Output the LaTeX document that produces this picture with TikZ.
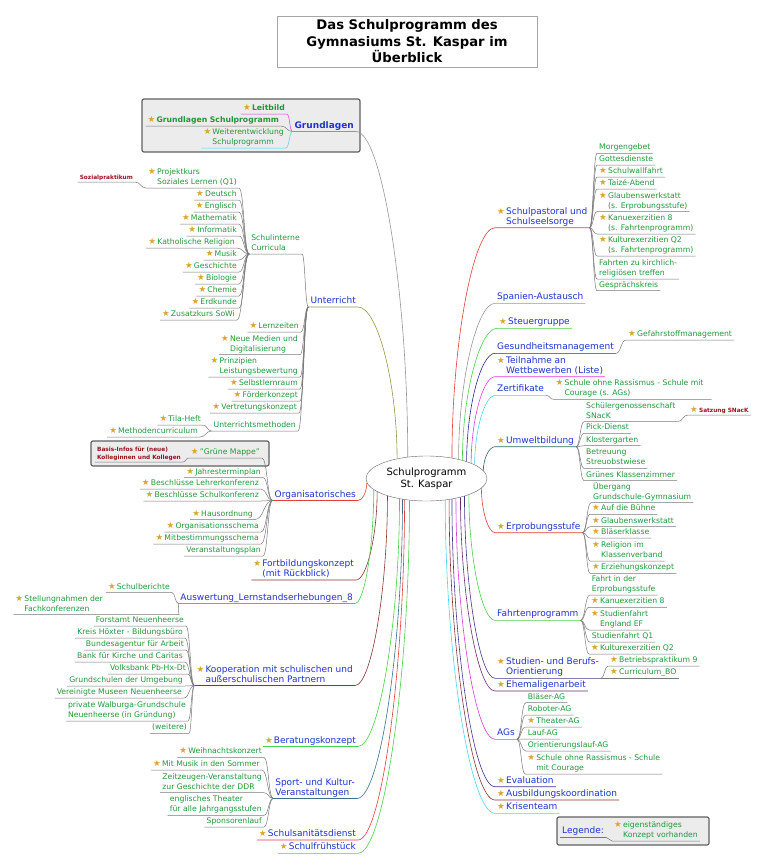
\documentclass[tikz,border=0pt]{standalone}
\usepackage{fontspec}
\setmainfont{DejaVu Sans}
\usepackage{tikz}
\usetikzlibrary{shapes.geometric, calc}

\definecolor{leafgreen}{RGB}{34,150,60}
\definecolor{mainblue}{RGB}{30,50,210}
\definecolor{notered}{RGB}{150,20,30}
\definecolor{twiggray}{RGB}{120,120,120}
\definecolor{stargold}{RGB}{215,165,50}
\definecolor{cgray}{RGB}{150,150,150}
\definecolor{colive}{RGB}{150,150,70}
\definecolor{cred}{RGB}{230,60,60}
\definecolor{cmaroon}{RGB}{140,50,50}
\definecolor{cgreen}{RGB}{70,210,70}
\definecolor{cteal}{RGB}{60,110,140}
\definecolor{cnavy}{RGB}{40,40,150}
\definecolor{cmag}{RGB}{220,60,220}
\definecolor{ccyan}{RGB}{70,215,235}
\definecolor{cdteal}{RGB}{50,100,90}
\definecolor{cindigo}{RGB}{70,50,140}
\definecolor{cplum}{RGB}{110,40,110}

\tikzstyle{titlebox} = [rectangle, draw=gray!70, minimum width=260pt, minimum height=51pt, align=center, font=\fontsize{13.2}{16.5}\selectfont\bfseries]
\tikzstyle{centre} = [ellipse, draw=gray!80!black, minimum width=121pt, minimum height=45pt, inner sep=0pt, align=center, font=\fontsize{10}{11.5}\selectfont]
\tikzstyle{grpbox} = [fill=gray!15, draw=gray!75!black, line width=1.2pt, rounded corners=2pt]
\tikzstyle{main} = [inner xsep=2pt, inner ysep=0.3pt, text=mainblue, font=\fontsize{9}{10}\selectfont]
\tikzstyle{leaf} = [inner xsep=2pt, inner ysep=0.3pt, text=leafgreen, font=\fontsize{7.7}{10}\selectfont]
\tikzstyle{note} = [inner xsep=2pt, inner ysep=0.3pt, text=notered, font=\fontsize{5.8}{8}\selectfont\bfseries]
\tikzstyle{lt} = [anchor=south east]
\tikzstyle{rt} = [anchor=south west]
\tikzstyle{twig} = [draw=twiggray, line width=0.5pt]
\tikzstyle{branch} = [line width=0.6pt]

\newcommand{\st}[1]{{\fontsize{8.6}{8.6}\selectfont\color{stargold}★}\hspace{1.2pt}\begin{tabular}[t]{@{}l@{}}#1\end{tabular}}
\newcommand{\ns}[1]{\begin{tabular}[t]{@{}l@{}}#1\end{tabular}}
% centre -> left / right branch
\newcommand{\ml}[3]{\draw[branch,draw=#1] let \p1=(ctr.#2), \p2=(#3.south east) in
  (\p1) .. controls (\x1,{(\y1+\y2)/2}) and ({(\x1+\x2)/2},\y2) .. (\p2) -- (#3.south west);}
\newcommand{\mr}[3]{\draw[branch,draw=#1] let \p1=(ctr.#2), \p2=(#3.south west) in
  (\p1) .. controls (\x1,{(\y1+\y2)/2}) and ({(\x1+\x2)/2},\y2) .. (\p2) -- (#3.south east);}
% parent -> child
\newcommand{\lk}[3][twig]{\draw[#1] let \p1=(#2.south west), \p2=(#3.south east) in
  (\p1) .. controls ({(\x1+\x2)/2},\y1) and ({(\x1+\x2)/2},\y2) .. (\p2) -- (#3.south west);}
\newcommand{\rk}[3][twig]{\draw[#1] let \p1=(#2.south east), \p2=(#3.south west) in
  (\p1) .. controls ({(\x1+\x2)/2},\y1) and ({(\x1+\x2)/2},\y2) .. (\p2) -- (#3.south east);}

\begin{document}
\begin{tikzpicture}[x=1pt, y=-1pt]
\useasboundingbox (0,0) rectangle (764,865);

\node (ttl) [titlebox] at (407,41.5) {Das Schulprogramm des\\Gymnasiums St. Kaspar im\\Überblick};

\draw[grpbox] (142,99) rectangle (360,152);
\draw[grpbox] (91,441) rectangle (269,466);
\draw[grpbox] (557,817) rectangle (709,845);

\node (ctr) [centre] at (426.5,478.5) {Schulprogramm\\St. Kaspar};

% left side
\node (gl) [main, lt] at (356,131.5) {\ns{\textbf{Grundlagen}}};
\node (leit) [leaf, lt] at (287,114) {\st{\textbf{Leitbild}}};
\node (gsp) [leaf, lt] at (281,126) {\st{\textbf{Grundlagen Schulprogramm}}};
\node (wsp) [leaf, lt] at (286,148) {\st{Weiterentwicklung\\Schulprogramm}};

\node (unt) [main, lt] at (358,307) {\ns{Unterricht}};
\node (cur) [leaf, lt] at (302,254) {\ns{Schulinterne\\Curricula}};
\node (pk) [leaf, lt] at (239,188) {\st{Projektkurs\\Soziales Lernen (Q1)}};
\node (sozp) [note, lt] at (135,182) {\ns{Sozialpraktikum}};
\node (deu) [leaf, lt] at (239,200) {\st{Deutsch}};
\node (eng) [leaf, lt] at (239,212) {\st{Englisch}};
\node (mat) [leaf, lt] at (239,224) {\st{Mathematik}};
\node (inf) [leaf, lt] at (239,236) {\st{Informatik}};
\node (kr) [leaf, lt] at (237,248) {\st{Katholische Religion}};
\node (mus) [leaf, lt] at (239,260) {\st{Musik}};
\node (ges) [leaf, lt] at (239,272) {\st{Geschichte}};
\node (bio) [leaf, lt] at (239,284) {\st{Biologie}};
\node (che) [leaf, lt] at (239,296) {\st{Chemie}};
\node (erd) [leaf, lt] at (239,308) {\st{Erdkunde}};
\node (sowi) [leaf, lt] at (237,320) {\st{Zusatzkurs SoWi}};
\node (lz) [leaf, lt] at (301,332) {\st{Lernzeiten}};
\node (nm) [leaf, lt] at (300,354.7) {\st{Neue Medien und\\Digitalisierung}};
\node (plb) [leaf, lt] at (300,377) {\st{Prinzipien\\Leistungsbewertung}};
\node (slr) [leaf, lt] at (300,389) {\st{Selbstlernraum}};
\node (fk) [leaf, lt] at (300,401) {\st{Förderkonzept}};
\node (vk) [leaf, lt] at (299,413) {\st{Vertretungskonzept}};
\node (um) [leaf, lt] at (298,431) {\ns{Unterrichtsmethoden}};
\node (tila) [leaf, lt] at (203,425) {\st{Tila-Heft}};
\node (mcur) [leaf, lt] at (200,437) {\st{Methodencurriculum}};

\node (org) [main, lt] at (358,500.5) {\ns{Organisatorisches}};
\node (gm) [leaf, lt] at (262,458) {\st{"Grüne Mappe"}};
\node (basis) [note, lt] at (183,462) {\ns{Basis-Infos für (neue)\\Kolleginnen und Kollegen}};
\node (jtp) [leaf, lt] at (263,477.5) {\st{Jahresterminplan}};
\node (blk) [leaf, lt] at (261,489) {\st{Beschlüsse Lehrerkonferenz}};
\node (bsk) [leaf, lt] at (261,501) {\st{Beschlüsse Schulkonferenz}};
\node (ho) [leaf, lt] at (255,519.5) {\st{Hausordnung}};
\node (os) [leaf, lt] at (261,532) {\st{Organisationsschema}};
\node (mbs) [leaf, lt] at (261,544) {\st{Mitbestimmungsschema}};
\node (vp) [leaf, lt] at (263,556) {\ns{Veranstaltungsplan}};

\node (fbk) [main, lt] at (356,580) {\st{Fortbildungskonzept\\(mit Rückblick)}};
\node (alse) [main, lt] at (355,603.5) {\ns{Auswertung\_Lernstandserhebungen\_8}};
\node (sb) [leaf, lt] at (172,592.5) {\st{Schulberichte}};
\node (snf) [leaf, lt] at (179,614.5) {\st{Stellungnahmen der\\Fachkonferenzen}\hspace*{74pt}};

\node (koop) [main, lt] at (355,685.5) {\st{Kooperation mit schulischen und\\außerschulischen Partnern}};
\node (fa) [leaf, lt] at (186,626) {\ns{Forstamt Neuenheerse}};
\node (kh) [leaf, lt] at (185,638) {\ns{Kreis Höxter - Bildungsbüro}};
\node (baa) [leaf, lt] at (186,650) {\ns{Bundesagentur für Arbeit}};
\node (bkc) [leaf, lt] at (185,662) {\ns{Bank für Kirche und Caritas}};
\node (vb) [leaf, lt] at (188,674) {\ns{Volksbank Pb-Hx-Dt}};
\node (gsu) [leaf, lt] at (185,686) {\ns{Grundschulen der Umgebung}};
\node (vmn) [leaf, lt] at (184,698) {\ns{Vereinigte Museen Neuenheerse}};
\node (pwg) [leaf, lt] at (188,721) {\ns{private Walburga-Grundschule\\Neuenheerse (in Gründung)}};
\node (wei) [leaf, lt] at (189,733.3) {\ns{(weitere)}};

\node (bera) [main, lt] at (358,746.5) {\st{Beratungskonzept}};
\node (spk) [main, lt] at (357,798.5) {\ns{Sport- und Kultur-\\Veranstaltungen}};
\node (wk) [leaf, lt] at (264,757.3) {\st{Weihnachtskonzert}};
\node (mim) [leaf, lt] at (262,770) {\st{Mit Musik in den Sommer}};
\node (zz) [leaf, lt] at (264,792.7) {\ns{Zeitzeugen-Veranstaltung\\zur Geschichte der DDR}};
\node (eth) [leaf, lt] at (264,815.3) {\ns{englisches Theater\\für alle Jahrgangsstufen}};
\node (spl) [leaf, lt] at (264,827) {\ns{Sponsorenlauf}};
\node (ssd) [main, lt] at (358,840) {\st{Schulsanitätsdienst}};
\node (sfr) [main, lt] at (358,853.3) {\st{Schulfrühstück}};

% right side
\node (sps) [main, rt] at (495,227.7) {\st{Schulpastoral und\\Schulseelsorge}};
\node (mg) [leaf, rt] at (597,153.3) {\ns{Morgengebet}};
\node (gd) [leaf, rt] at (597,165) {\ns{Gottesdienste}};
\node (swf) [leaf, rt] at (597,177) {\st{Schulwallfahrt}};
\node (tzab) [leaf, rt] at (597,189) {\st{Taizé-Abend}};
\node (gw1) [leaf, rt] at (597,211.7) {\st{Glaubenswerkstatt\\(s. Erprobungsstufe)}};
\node (ke1) [leaf, rt] at (597,234) {\st{Kanuexerzitien 8\\(s. Fahrtenprogramm)}};
\node (kq1) [leaf, rt] at (597,256) {\st{Kulturexerzitien Q2\\(s. Fahrtenprogramm)}};
\node (fkr) [leaf, rt] at (597,279) {\ns{Fahrten zu kirchlich-\\religiösen treffen}};
\node (gsk) [leaf, rt] at (597,290.7) {\ns{Gesprächskreis}};
\node (spa) [main, rt] at (495,303.3) {\ns{Spanien-Austausch}};
\node (stg) [main, rt] at (497,328.3) {\st{Steuergruppe}};
\node (gsm) [main, rt] at (495,353.3) {\ns{Gesundheitsmanagement}};
\node (gfm) [leaf, rt] at (626,340) {\st{Gefahrstoffmanagement}};
\node (tnw) [main, rt] at (495,376.7) {\st{Teilnahme an\\Wettbewerben (Liste)}};
\node (zer) [main, rt] at (495,395.3) {\ns{Zertifikate}};
\node (sor1) [leaf, rt] at (553.5,399.3) {\st{Schule ohne Rassismus - Schule mit\\Courage (s. AGs)}\hspace*{6pt}};
\node (uwb) [main, rt] at (495,446.7) {\st{Umweltbildung}};
\node (sgs) [leaf, rt] at (584,421.7) {\ns{Schülergenossenschaft\\SNacK}};
\node (snk) [note, rt] at (688,415) {\st{Satzung SNacK}};
\node (pkd) [leaf, rt] at (584,433.3) {\ns{Pick-Dienst}};
\node (klg) [leaf, rt] at (584,445.7) {\ns{Klostergarten}};
\node (bsw) [leaf, rt] at (584,468.3) {\ns{Betreuung\\Streuobstwiese}};
\node (gkz) [leaf, rt] at (584,480.7) {\ns{Grünes Klassenzimmer}};
\node (eps) [main, rt] at (495,532.7) {\st{Erprobungsstufe}};
\node (ueb) [leaf, rt] at (591,502.7) {\ns{Übergang\\Grundschule-Gymnasium}};
\node (adb) [leaf, rt] at (590,514.3) {\st{Auf die Bühne}};
\node (gw2) [leaf, rt] at (590,526.7) {\st{Glaubenswerkstatt}};
\node (blk2) [leaf, rt] at (590,538) {\st{Bläserklasse}};
\node (rik) [leaf, rt] at (590,561) {\st{Religion im\\Klassenverband}};
\node (ezk) [leaf, rt] at (590,573.3) {\st{Erziehungskonzept}};
\node (ftp) [main, rt] at (495,620.3) {\ns{Fahrtenprogramm}};
\node (fie) [leaf, rt] at (589.7,595) {\ns{Fahrt in der\\Erprobungsstufe}};
\node (ke2) [leaf, rt] at (589,607.3) {\st{Kanuexerzitien 8}};
\node (sfe) [leaf, rt] at (589,630) {\st{Studienfahrt\\England EF}};
\node (sfq) [leaf, rt] at (589.7,642) {\ns{Studienfahrt Q1}};
\node (kq2) [leaf, rt] at (589,654) {\st{Kulturexerzitien Q2}};
\node (sbo) [main, rt] at (495,678.3) {\st{Studien- und Berufs-\\Orientierung}};
\node (bpk) [leaf, rt] at (608,666) {\st{Betriebspraktikum 9}};
\node (cbo) [leaf, rt] at (608,678.3) {\st{Curriculum\_BO}};
\node (ehe) [main, rt] at (495,691) {\st{Ehemaligenarbeit}};
\node (ags) [main, rt] at (495,739.3) {\ns{AGs}};
\node (bag) [leaf, rt] at (525.7,702.7) {\ns{Bläser-AG}};
\node (rag) [leaf, rt] at (525.7,715) {\ns{Roboter-AG}};
\node (tag) [leaf, rt] at (525.2,727) {\st{Theater-AG}};
\node (lag) [leaf, rt] at (525.7,739) {\ns{Lauf-AG}};
\node (olag) [leaf, rt] at (525.7,751) {\ns{Orientierungslauf-AG}};
\node (sor2) [leaf, rt] at (525.2,774) {\st{Schule ohne Rassismus - Schule\\mit Courage}};
\node (eva) [main, rt] at (495,786.7) {\st{Evaluation}};
\node (abk) [main, rt] at (495,800) {\st{Ausbildungskoordination}};
\node (krt) [main, rt] at (495,813.3) {\st{Krisenteam}};
\node (leg) [main, rt] at (560,837.3) {\ns{Legende:}};
\node (legs) [leaf, rt] at (612,841) {\st{eigenständiges\\Konzept vorhanden}};

% left edges
\ml{cgray}{131}{gl}
\lk[twig,draw=cmag]{gl}{leit}
\lk{gl}{gsp}
\lk[twig,draw=ccyan]{gl}{wsp}
\ml{colive}{146}{unt}
\foreach \nd in {cur,lz,nm,plb,slr,fk,vk,um} {\lk{unt}{\nd}}
\foreach \nd in {pk,deu,eng,mat,inf,kr,mus,ges,bio,che,erd,sowi} {\lk{cur}{\nd}}
\lk{pk}{sozp}
\lk{um}{tila}
\lk{um}{mcur}
\ml{cred}{184}{org}
\foreach \nd in {gm,jtp,blk,bsk,ho,os,mbs,vp} {\lk{org}{\nd}}
\lk{gm}{basis}
\ml{cmaroon}{195.5}{fbk}
\ml{cgreen}{192}{alse}
\lk{alse}{sb}
\lk{alse}{snf}
\ml{cmaroon}{204.3}{koop}
\foreach \nd in {fa,kh,baa,bkc,vb,gsu,vmn,pwg,wei} {\lk{koop}{\nd}}
\ml{cgreen}{217.3}{bera}
\ml{cteal}{221.4}{spk}
\foreach \nd in {wk,mim,zz,eth,spl} {\lk{spk}{\nd}}
\ml{cred}{224}{ssd}
\ml{cgreen}{232.6}{sfr}

% right edges
\mr{cred}{39}{sps}
\foreach \nd in {mg,gd,swf,tzab,gw1,ke1,kq1,fkr,gsk} {\rk{sps}{\nd}}
\mr{cgray}{31.4}{spa}
\mr{cgreen}{27.2}{stg}
\mr{cnavy}{23.3}{gsm}
\rk{gsm}{gfm}
\mr{cmag}{19.7}{tnw}
\mr{ccyan}{16.3}{zer}
\rk{zer}{sor1}
\mr{cdteal}{8}{uwb}
\foreach \nd in {sgs,pkd,klg,bsw,gkz} {\rk{uwb}{\nd}}
\rk{sgs}{snk}
\mr{cred}{350}{eps}
\foreach \nd in {ueb,adb,gw2,blk2,rik,ezk} {\rk{eps}{\nd}}
\mr{cgreen}{339}{ftp}
\foreach \nd in {fie,ke2,sfe,sfq,kq2} {\rk{ftp}{\nd}}
\mr{cindigo}{335}{sbo}
\rk{sbo}{bpk}
\rk{sbo}{cbo}
\mr{cplum}{331}{ehe}
\mr{cmag}{326}{ags}
\foreach \nd in {bag,rag,tag,lag,olag,sor2} {\rk{ags}{\nd}}
\mr{cindigo}{321}{eva}
\mr{cmaroon}{317}{abk}
\mr{ccyan}{311}{krt}
\draw[twig] (leg.south west) -- (leg.south east);
\rk{leg}{legs}

\end{tikzpicture}
\end{document}
